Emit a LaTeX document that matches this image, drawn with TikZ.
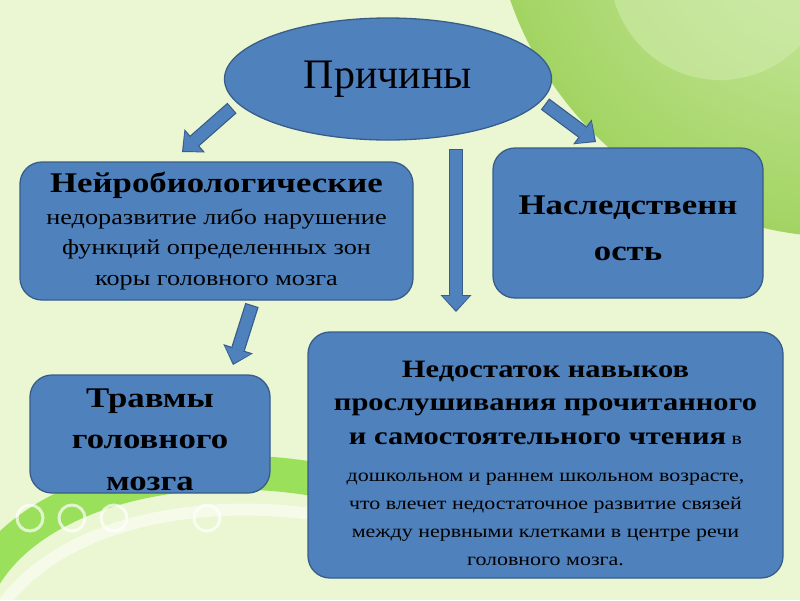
\documentclass[tikz,border=0pt]{standalone}
\usepackage{fontspec}
\setmainfont{Liberation Serif}
\newfontfamily\slidefont{Liberation Serif}[FakeStretch=1.22]
\usetikzlibrary{arrows.meta,shapes.geometric}
\definecolor{boxfill}{HTML}{4F81BD}
\definecolor{boxline}{HTML}{385D8A}
\definecolor{bgpale}{HTML}{EBF6D3}
\definecolor{bggreen}{HTML}{A2D462}
\definecolor{bglight}{HTML}{D4EDB2}
\definecolor{lime}{HTML}{86DB3E}
\tikzset{
  cause/.style={draw=boxline, fill=boxfill, line width=1.3pt, rounded corners=22pt,
    align=center, inner sep=0pt, text=black},
  arrowrim/.style={boxline, line width=14pt, -{Triangle[length=17pt,width=31pt,line width=0pt]}},
  arrowbody/.style={boxfill, line width=11.5pt, shorten >=1.8pt, shorten <=1.2pt,
    -{Triangle[length=14pt,width=27pt,line width=0pt]}}
}
\begin{document}
\begin{tikzpicture}[x=1pt,y=-1pt]
    \useasboundingbox (0,0) rectangle (800,600);
    % background
    \fill[bgpale] (0,0) rectangle (800,600);
    \shade[inner color=bglight, outer color=bggreen] (843,-115) circle (352);
    \fill[bglight, opacity=.5] (720,-30) circle (110);
    \draw[lime, line width=34pt, opacity=.8] (-30,610) .. controls (0,500) and (170,450) .. (330,482);
    \draw[white, line width=12pt, opacity=.5] (-10,625) .. controls (40,530) and (180,495) .. (320,515);
    \foreach \x in {30,72,114,207} \draw[white, line width=3pt, opacity=.7] (\x,518) circle (13);

    % nodes
    \node[ellipse, draw=boxline, fill=boxfill, line width=1.3pt, minimum width=327pt,
      minimum height=122pt, inner sep=0pt, font=\fontsize{42}{42}\selectfont] (prich) at (388,79) {Причины};
    \node[cause, minimum width=393pt, minimum height=138pt, font=\slidefont\fontsize{21.5}{30.5}\selectfont]
      (neuro) at (216.5,231) {{\bfseries\fontsize{28.5}{32}\selectfont Нейробиологические}\\[1.5pt]
      недоразвитие либо нарушение\\функций определенных зон\\коры головного мозга};
    \node[cause, minimum width=270pt, minimum height=150pt, font=\slidefont\bfseries\fontsize{28.5}{46}\selectfont]
      (heredity) at (628,223) {\rule{0pt}{30pt}Наследственн\\ость};
    \node[cause, minimum width=240pt, minimum height=118pt, font=\slidefont\bfseries\fontsize{28.5}{41.5}\selectfont]
      (trauma) at (150,434) {\rule{0pt}{30pt}Травмы\\головного\\мозга};
    \node[cause, minimum width=475pt, minimum height=246pt, font=\slidefont\fontsize{18}{28}\selectfont]
      (lack) at (545.5,455) {{\bfseries\fontsize{25}{33.5}\selectfont\rule{0pt}{33pt}Недостаток навыков}\\[5.5pt]
      {\bfseries\fontsize{25}{33.5}\selectfont прослушивания прочитанного}\\[5.5pt]
      {\bfseries\fontsize{25}{33.5}\selectfont и самостоятельного чтения} в\\[9pt]
      дошкольном и раннем школьном возрасте,\\что влечет недостаточное развитие связей\\
      между нервными клетками в центре речи\\головного мозга.};

    % arrows
    \coordinate (a1s) at (232,108); \coordinate (a1t) at (182,152);
    \coordinate (a2s) at (545,104); \coordinate (a2t) at (596,142);
    \coordinate (a3s) at (456,149); \coordinate (a3t) at (456,312);
    \coordinate (a4s) at (252,305); \coordinate (a4t) at (233,365);
    \foreach \s/\t in {a1s/a1t,a2s/a2t,a3s/a3t,a4s/a4t} {
        \draw[arrowrim] (\s) -- (\t);
        \draw[arrowbody] (\s) -- (\t);
    }
\end{tikzpicture}
\end{document}
